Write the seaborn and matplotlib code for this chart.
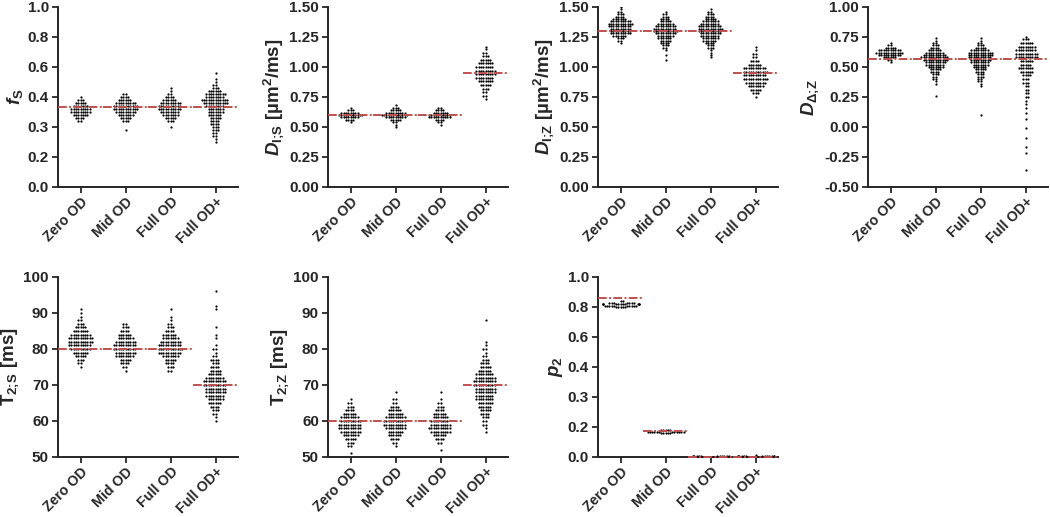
import warnings
import matplotlib
matplotlib.use("Agg")
import matplotlib.pyplot as plt
import numpy as np
import pandas as pd
import seaborn as sns

warnings.filterwarnings("ignore")
sns.set_style("ticks")
plt.rcParams['font.family'] = ['Liberation Sans', 'DejaVu Sans']
plt.rcParams['font.weight'] = 'bold'
plt.rcParams['mathtext.fontset'] = 'custom'
plt.rcParams['mathtext.rm'] = 'Liberation Sans:bold'
plt.rcParams['mathtext.it'] = 'Liberation Sans:italic:bold'
plt.rcParams['mathtext.bf'] = 'Liberation Sans:bold'

groups = ['Zero OD', 'Mid OD', 'Full OD', 'Full OD+']

fs_zero = [(0.32, 2), (0.33, 4), (0.34, 7), (0.35, 9), (0.36, 9), (0.37, 7), (0.38, 5), (0.39, 3), (0.40, 1)]
fs_mid = [(0.29, 1), (0.32, 3), (0.33, 5), (0.34, 7), (0.35, 9), (0.36, 11), (0.37, 11), (0.38, 9),
          (0.39, 6), (0.40, 4), (0.42, 2)]
fs_full = [(0.30, 1), (0.32, 3), (0.33, 5), (0.34, 7), (0.35, 8), (0.36, 10), (0.37, 10), (0.38, 9),
           (0.39, 6), (0.40, 4), (0.42, 2), (0.44, 1), (0.46, 1)]
fs_plus = [(0.25, 1), (0.26, 1), (0.27, 2), (0.28, 2), (0.29, 3), (0.30, 3), (0.31, 4), (0.32, 4),
           (0.33, 5), (0.34, 6), (0.35, 7), (0.36, 7), (0.37, 8), (0.38, 11), (0.39, 12), (0.40, 8),
           (0.42, 9), (0.44, 6), (0.46, 3), (0.48, 2), (0.50, 1), (0.52, 1), (0.56, 1)]

dis_zero = [(0.54, 1), (0.56, 4), (0.58, 8), (0.60, 11), (0.62, 8), (0.64, 3), (0.66, 1)]
dis_mid = [(0.50, 1), (0.52, 1), (0.54, 2), (0.56, 5), (0.58, 9), (0.60, 12), (0.62, 9), (0.64, 5),
           (0.66, 3), (0.68, 1)]
dis_full = [(0.52, 1), (0.54, 2), (0.56, 4), (0.58, 10), (0.60, 10), (0.62, 7), (0.64, 4), (0.66, 2)]
dis_plus = [(0.73, 1), (0.76, 2), (0.79, 2), (0.82, 3), (0.85, 5), (0.88, 7), (0.91, 8), (0.94, 9),
            (0.97, 9), (1.00, 8), (1.03, 7), (1.06, 5), (1.09, 3), (1.12, 2), (1.15, 1), (1.17, 1)]

diz_zero = [(1.20, 1), (1.22, 2), (1.24, 3), (1.26, 6), (1.28, 9), (1.30, 9), (1.32, 9), (1.34, 10),
            (1.36, 11), (1.38, 9), (1.40, 6), (1.42, 4), (1.44, 3), (1.46, 2), (1.48, 1), (1.50, 1)]
diz_mid = [(1.06, 1), (1.10, 1), (1.14, 1), (1.16, 2), (1.18, 3), (1.20, 4), (1.22, 5), (1.24, 6),
           (1.26, 7), (1.28, 9), (1.30, 11), (1.32, 10), (1.34, 9), (1.36, 7), (1.38, 5), (1.40, 4),
           (1.42, 3), (1.44, 2), (1.46, 1)]
diz_full = [(1.08, 1), (1.10, 1), (1.12, 1), (1.14, 1), (1.16, 3), (1.18, 3), (1.20, 4), (1.22, 6),
            (1.24, 7), (1.26, 8), (1.28, 9), (1.30, 10), (1.32, 11), (1.34, 10), (1.36, 8), (1.38, 7),
            (1.40, 5), (1.42, 4), (1.44, 3), (1.46, 2), (1.48, 1)]
diz_plus = [(0.75, 1), (0.78, 3), (0.81, 5), (0.84, 7), (0.87, 9), (0.90, 11), (0.93, 10), (0.96, 11),
            (0.99, 10), (1.02, 6), (1.05, 4), (1.08, 2), (1.11, 2), (1.14, 1), (1.17, 1)]

ddz_zero = [(0.54, 1), (0.56, 2), (0.58, 6), (0.60, 10), (0.62, 12), (0.64, 10), (0.66, 5), (0.68, 2), (0.70, 1)]
ddz_mid = [(0.26, 1), (0.36, 1), (0.38, 1), (0.40, 2), (0.42, 2), (0.44, 3), (0.46, 4), (0.48, 5),
           (0.50, 7), (0.52, 8), (0.54, 9), (0.56, 11), (0.58, 12), (0.60, 10), (0.62, 8), (0.64, 6),
           (0.66, 4), (0.68, 3), (0.70, 2), (0.72, 1), (0.74, 1)]
ddz_full = [(0.10, 1), (0.34, 1), (0.36, 1), (0.38, 2), (0.40, 2), (0.42, 3), (0.44, 3), (0.46, 4),
            (0.48, 5), (0.50, 6), (0.52, 7), (0.54, 8), (0.56, 9), (0.58, 10), (0.60, 11), (0.62, 11),
            (0.64, 8), (0.66, 5), (0.68, 3), (0.70, 2), (0.72, 1), (0.74, 1)]
ddz_plus = [(-0.36, 1), (-0.22, 1), (-0.17, 1), (-0.09, 1), (-0.01, 1), (0.07, 1), (0.12, 1), (0.16, 1),
            (0.19, 1), (0.22, 1), (0.25, 2), (0.28, 2), (0.31, 2), (0.34, 2), (0.37, 3), (0.40, 3),
            (0.43, 4), (0.46, 6), (0.49, 7), (0.52, 5), (0.55, 6), (0.58, 10), (0.61, 10), (0.64, 9),
            (0.67, 8), (0.70, 6), (0.73, 3), (0.75, 1)]

t2s_zero = [(75, 1), (76, 2), (77, 3), (78, 5), (79, 7), (80, 9), (81, 10), (82, 11), (83, 11), (84, 9),
            (85, 7), (86, 5), (87, 3), (88, 2), (89, 1), (90, 1), (91, 1)]
t2s_mid = [(74, 1), (75, 2), (76, 4), (77, 5), (78, 8), (79, 9), (80, 10), (81, 10), (82, 9), (83, 7),
           (84, 6), (85, 4), (86, 3), (87, 2)]
t2s_full = [(74, 2), (75, 3), (76, 4), (77, 5), (78, 7), (79, 10), (80, 11), (81, 10), (82, 9), (83, 7),
            (84, 6), (85, 4), (86, 3), (87, 2), (88, 1), (89, 1), (91, 1)]
t2s_plus = [(60, 1), (61, 1), (62, 2), (63, 3), (64, 4), (65, 6), (66, 7), (67, 8), (68, 9), (69, 9),
            (70, 10), (71, 10), (72, 8), (73, 6), (74, 5), (75, 4), (76, 3), (77, 4), (78, 2), (79, 1),
            (80, 2), (81, 1), (83, 1), (84, 1), (86, 1), (91, 1), (92, 1), (96, 1)]

t2z_zero = [(51, 1), (53, 2), (54, 3), (55, 5), (56, 7), (57, 9), (58, 10), (59, 10), (60, 9), (61, 8),
            (62, 6), (63, 4), (64, 3), (65, 2), (66, 1)]
t2z_mid = [(53, 1), (54, 2), (55, 4), (56, 6), (57, 7), (58, 9), (59, 10), (60, 10), (61, 9), (62, 7),
           (63, 6), (64, 4), (65, 2), (66, 2), (68, 1)]
t2z_full = [(52, 1), (54, 2), (55, 4), (56, 6), (57, 9), (58, 10), (59, 9), (60, 8), (61, 7), (62, 6),
            (63, 4), (64, 3), (65, 2), (66, 1), (68, 1)]
t2z_plus = [(57, 1), (58, 1), (59, 2), (60, 2), (61, 3), (62, 4), (63, 5), (64, 6), (65, 7), (66, 8),
            (67, 8), (68, 9), (69, 9), (70, 10), (71, 10), (72, 9), (73, 8), (74, 6), (75, 5), (76, 4),
            (77, 3), (78, 2), (79, 1), (80, 2), (81, 1), (82, 1), (88, 1)]

p2_zero = [(0.80, 5), (0.81, 10), (0.82, 12), (0.83, 7), (0.84, 2)]
p2_mid = [(0.16, 5), (0.17, 12), (0.18, 5)]
p2_full = [(0.0, 6), (0.005, 8), (0.01, 4)]
p2_plus = [(0.0, 6), (0.005, 8), (0.01, 5), (0.015, 1)]

# reference (dash-dot) values per group
fs_true = [0.367, 0.367, 0.367, 0.367]
dis_true = [0.60, 0.60, 0.60, 0.95]
diz_true = [1.30, 1.30, 1.30, 0.95]
ddz_true = [0.57, 0.57, 0.57, 0.57]
t2s_true = [80, 80, 80, 70]
t2z_true = [60, 60, 60, 70]
p2_true = [0.863, 0.171, 0.0, 0.0]

# the f_S and p_2 axes have evenly spaced but oddly labelled ticks
odd_ticks = [0.0, 0.2, 0.3, 0.4, 0.6, 0.8, 1.0]
odd_pos = [0, 1, 2, 3, 4, 5, 6]

unit = r' [µm$^{\mathrm{2}}$/ms]'
panels = [
    dict(data=[fs_zero, fs_mid, fs_full, fs_plus], true=fs_true, ylabel=r'$\mathit{f}_{\mathrm{S}}$',
         ticks=odd_ticks, labels=['0.0', '0.2', '0.3', '0.4', '0.6', '0.8', '1.0'], odd=True),
    dict(data=[dis_zero, dis_mid, dis_full, dis_plus], true=dis_true,
         ylabel=r'$\mathit{D}_{\mathrm{I;\!S}}$' + unit,
         ticks=[0, 0.25, 0.5, 0.75, 1.0, 1.25, 1.5],
         labels=['0.00', '0.25', '0.50', '0.75', '1.00', '1.25', '1.50'], odd=False),
    dict(data=[diz_zero, diz_mid, diz_full, diz_plus], true=diz_true,
         ylabel=r'$\mathit{D}_{\mathrm{I;\!Z}}$' + unit,
         ticks=[0, 0.25, 0.5, 0.75, 1.0, 1.25, 1.5],
         labels=['0.00', '0.25', '0.50', '0.75', '1.00', '1.25', '1.50'], odd=False),
    dict(data=[ddz_zero, ddz_mid, ddz_full, ddz_plus], true=ddz_true,
         ylabel=r'$\mathit{D}_{\mathrm{\Delta;\!Z}}$',
         ticks=[-0.5, -0.25, 0, 0.25, 0.5, 0.75, 1.0],
         labels=['-0.50', '-0.25', '0.00', '0.25', '0.50', '0.75', '1.00'], odd=False),
    dict(data=[t2s_zero, t2s_mid, t2s_full, t2s_plus], true=t2s_true,
         ylabel=r'T$_{\mathrm{2;\!S}}$ [ms]',
         ticks=[50, 60, 70, 80, 90, 100], labels=['50', '60', '70', '80', '90', '100'], odd=False),
    dict(data=[t2z_zero, t2z_mid, t2z_full, t2z_plus], true=t2z_true,
         ylabel=r'T$_{\mathrm{2;\!Z}}$ [ms]',
         ticks=[50, 60, 70, 80, 90, 100], labels=['50', '60', '70', '80', '90', '100'], odd=False),
    dict(data=[p2_zero, p2_mid, p2_full, p2_plus], true=p2_true, ylabel=r'$\mathit{p}_{\mathrm{2}}$',
         ticks=odd_ticks, labels=['0.0', '0.2', '0.3', '0.4', '0.6', '0.8', '1.0'], odd=True),
]

ink = '#262626'
red = '#c0504d'

fig = plt.figure(figsize=(10.5, 5.17), dpi=100)
col_left = [58, 328, 598, 868]
row_bottom = [187, 457]

for k, p in enumerate(panels):
    row, col = divmod(k, 4)
    ax = fig.add_axes([col_left[col] / 1050, (517 - row_bottom[row]) / 517, 180 / 1050, 180 / 517])

    rows = []
    for g, pairs in zip(groups, p['data']):
        for v, n in pairs:
            rows += [(g, v)] * n
    df = pd.DataFrame(rows, columns=['group', 'value'])

    if p['odd']:
        ax.set_yscale('function', functions=(lambda v: np.interp(v, odd_ticks, odd_pos),
                                             lambda v: np.interp(v, odd_pos, odd_ticks)))

    sns.swarmplot(data=df, x='group', y='value', order=groups, color='black', size=1.6,
                  linewidth=0, ax=ax)

    for i, t in enumerate(p['true']):
        ax.plot([i - 0.5, i + 0.5], [t, t], color=red, lw=1.4,
                linestyle=(0, (4.5, 1.2, 1, 1.2)), zorder=5, clip_on=False)

    ax.set_xlim(-0.5, 3.5)
    ax.set_ylim(p['ticks'][0], p['ticks'][-1])
    ax.set_yticks(p['ticks'])
    ax.set_yticklabels(p['labels'], fontsize=11, fontweight='bold')
    ax.set_xticks(range(4))
    ax.set_xticklabels(groups, fontsize=10.2, fontweight='bold', rotation=45,
                       ha='right', va='top', rotation_mode='anchor')
    ax.set_xlabel('')
    ax.set_ylabel(p['ylabel'], fontsize=13.5, fontweight='bold', color=ink, labelpad=2)
    ax.tick_params(axis='both', colors=ink, width=1.3, length=4.5, pad=2)
    ax.tick_params(axis='x', pad=1)
    sns.despine(ax=ax)
    for s in ['left', 'bottom']:
        ax.spines[s].set_linewidth(1.4)
        ax.spines[s].set_color(ink)

fig.savefig('out.png', dpi=100)
